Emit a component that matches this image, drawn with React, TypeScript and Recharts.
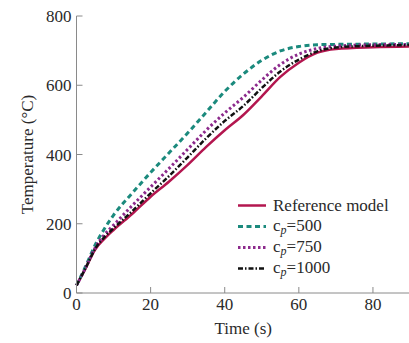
import React from 'react';
import { LineChart, Line, XAxis, YAxis, Legend } from 'recharts';

const times = [0, 2.5, 5, 7.5, 10, 15, 20, 25, 30, 35, 40, 45, 50, 55, 60, 65, 70, 80, 90];
const referenceModel = [22, 72, 125, 156, 182, 228, 278, 322, 370, 422, 470, 514, 568, 624, 665, 694, 705, 710, 712];
const cp500 = [22, 78, 138, 185, 225, 288, 348, 405, 462, 522, 582, 632, 672, 699, 712, 717, 718, 719, 720];
const cp750 = [22, 74, 130, 168, 196, 252, 306, 360, 415, 470, 520, 565, 615, 660, 690, 706, 713, 717, 718];
const cp1000 = [22, 73, 127, 161, 187, 236, 288, 338, 392, 447, 497, 540, 592, 640, 674, 698, 709, 714, 716];

const xTicks = [0, 20, 40, 60, 80];
const yTicks = [0, 200, 400, 600, 800];

const data = times.map((t, i) => ({
  t,
  ref: referenceModel[i],
  c500: cp500[i],
  c750: cp750[i],
  c1000: cp1000[i],
}));

const FONT = '"Liberation Serif", "Times New Roman", serif';
const AXIS = '#8a8a8a';
const TEXT = '#2a2a2a';

const series = [
  { key: 'ref', color: '#b3164f', dash: undefined, width: 2.5, label: 'ref' },
  { key: 'c500', color: '#1b8a7d', dash: '5 3.5', width: 3, label: '500' },
  { key: 'c750', color: '#8c2a8c', dash: '2.5 2.5', width: 3, label: '750' },
  { key: 'c1000', color: '#111111', dash: '5 2 1.5 2', width: 2.5, label: '1000' },
];

const renderLegend = () => (
  <div style={{ fontFamily: FONT, fontSize: 17, color: TEXT }}>
    {series.map(s => (
      <div key={s.key} style={{ display: 'flex', alignItems: 'center', height: 21 }}>
        <svg width={28} height={21} style={{ marginRight: 7 }}>
          <line
            x1={0}
            y1={10.5}
            x2={28}
            y2={10.5}
            stroke={s.color}
            strokeWidth={s.width}
            strokeDasharray={s.dash}
          />
        </svg>
        {s.label === 'ref' ? (
          <span>Reference model</span>
        ) : (
          <span>
            c<sub style={{ fontStyle: 'italic', fontSize: 12, verticalAlign: -3 }}>p</sub>={s.label}
          </span>
        )}
      </div>
    ))}
  </div>
);

const App: React.FC = () => {
  return (
    <div
      style={{
        position: 'absolute',
        left: 0,
        top: 0,
        width: 409,
        height: 343,
        overflow: 'hidden',
        background: '#fff',
        fontFamily: FONT,
      }}
    >
      <LineChart
        width={412}
        height={343}
        data={data}
        margin={{ top: 16, right: 2, left: 0, bottom: 0 }}
        style={{ fontFamily: FONT }}
      >
        <XAxis
          dataKey="t"
          type="number"
          domain={[0, 90]}
          ticks={xTicks}
          height={50}
          stroke={AXIS}
          tickSize={-6}
          tickMargin={11}
          tick={{ fill: TEXT, fontSize: 17, fontFamily: FONT }}
          label={{ value: 'Time (s)', position: 'insideBottom', offset: 9, fill: TEXT, fontSize: 17, fontFamily: FONT }}
        />
        <YAxis
          type="number"
          domain={[0, 800]}
          ticks={yTicks}
          width={76.5}
          stroke={AXIS}
          tickSize={-6}
          tickMargin={11}
          tick={{ fill: TEXT, fontSize: 17, fontFamily: FONT }}
          label={{
            value: 'Temperature (°C)',
            angle: -90,
            position: 'insideLeft',
            offset: 27,
            fill: TEXT,
            fontSize: 17,
            fontFamily: FONT,
            style: { textAnchor: 'middle' },
          }}
        />
        <Legend
          layout="vertical"
          align="center"
          verticalAlign="middle"
          content={renderLegend}
          wrapperStyle={{ left: 238, top: 195, width: 170 }}
        />
        {series.map(s => (
          <Line
            key={s.key}
            type="monotone"
            dataKey={s.key}
            stroke={s.color}
            strokeWidth={s.width}
            strokeDasharray={s.dash}
            dot={false}
            isAnimationActive={false}
          />
        ))}
      </LineChart>
    </div>
  );
};

export default App;
